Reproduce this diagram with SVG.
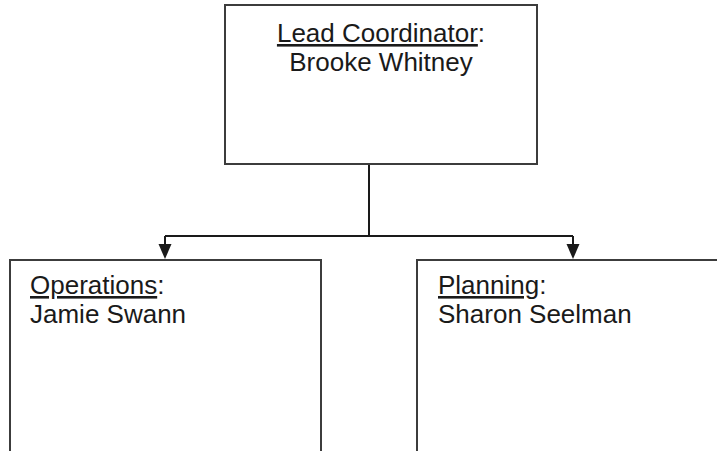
<svg xmlns="http://www.w3.org/2000/svg" width="717" height="451" viewBox="0 0 717 451">
<style>
.box{fill:#fff;stroke:#3c3c3c;stroke-width:2}
.t{font-family:"Liberation Sans",Arial,sans-serif;font-size:26px;fill:#1a1a1a}
.u{text-decoration:underline}
.c{fill:none;stroke:#1a1a1a;stroke-width:2}
</style>
<defs>
<marker id="ah" markerWidth="14" markerHeight="16" refX="7" refY="15" orient="auto-start-reverse" markerUnits="userSpaceOnUse" viewBox="0 0 14 16">
<path d="M0,0 L14,0 L7,16 Z" fill="#1a1a1a"/>
</marker>
</defs>
<rect width="717" height="451" fill="#fff"/>
<g id="connectors">
<path class="c" d="M369,164 V236"/>
<path class="c" d="M165,236 H573"/>
<path class="c" d="M165,236 V244" />
<path class="c" d="M573,236 V244" />
<path d="M158.5,244 L171.5,244 L165,259 Z" fill="#1a1a1a"/>
<path d="M566.5,244 L579.5,244 L573,259 Z" fill="#1a1a1a"/>
</g>
<g id="lead">
<rect class="box" x="225" y="5" width="312" height="159"/>
<text class="t" x="381" y="42" text-anchor="middle"><tspan class="u">Lead Coordinator</tspan>:</text>
<text class="t" x="381" y="71" text-anchor="middle">Brooke Whitney</text>
</g>
<g id="operations">
<rect class="box" x="10" y="260" width="311" height="200"/>
<text class="t" x="30" y="294"><tspan class="u">Operations</tspan>:</text>
<text class="t" x="30" y="323">Jamie Swann</text>
</g>
<g id="planning">
<rect class="box" x="417" y="260" width="320" height="200"/>
<text class="t" x="438" y="294"><tspan class="u">Planning</tspan>:</text>
<text class="t" x="438" y="323">Sharon Seelman</text>
</g>
</svg>
